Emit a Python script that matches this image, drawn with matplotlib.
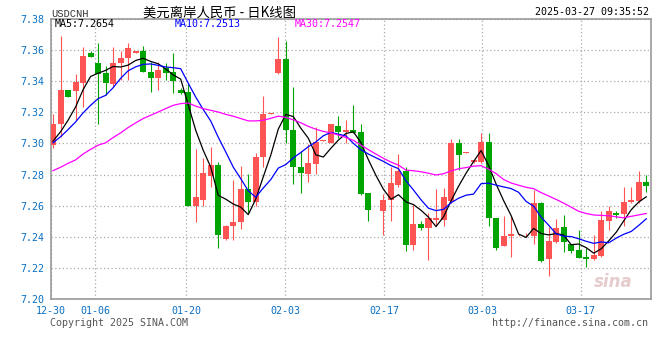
import numpy as np
import matplotlib.pyplot as plt

# 日K数据 (USDCNH)
tick_labels = ["12-30", "01-06", "01-20", "02-03", "02-17", "03-03", "03-17"]
tick_pos = [-0.27, 5.59, 17.75, 30.93, 44.11, 57.16, 70.27]

opens = [7.2989, 7.3124, 7.3341, 7.3334, 7.3388, 7.3579, 7.3520, 7.3452, 7.3379, 7.3516,
         7.3548, 7.3579, 7.3596, 7.3462, 7.3420, 7.3486, 7.3458, 7.3341, 7.3330, 7.2595,
         7.2638, 7.2793, 7.2862, 7.2387, 7.2468, 7.2493, 7.2708, 7.2621, 7.2911, 7.3187,
         7.3456, 7.3545, 7.3089, 7.2847, 7.2804, 7.2868, 7.3015, 7.3000, 7.3111, 7.3075,
         7.3085, 7.3072, 7.2681, 7.2572, 7.2563, 7.2638, 7.2734, 7.2823, 7.2344, 7.2485,
         7.2457, 7.2510, 7.2510, 7.2627, 7.3000, 7.2940, 7.2881, 7.2883, 7.3011, 7.2521,
         7.2340, 7.2404, 7.2410, 7.2410, 7.2408, 7.2617, 7.2259, 7.2365, 7.2463, 7.2351,
         7.2314, 7.2270, 7.2255, 7.2276, 7.2500, 7.2553, 7.2549, 7.2621, 7.2627, 7.2755]
highs = [7.3192, 7.3692, 7.3341, 7.3447, 7.3622, 7.3592, 7.3648, 7.3501, 7.3618, 7.3592,
         7.3648, 7.3596, 7.3628, 7.3522, 7.3522, 7.3518, 7.3579, 7.3358, 7.3383, 7.2964,
         7.2904, 7.2979, 7.2883, 7.2478, 7.2766, 7.2855, 7.2804, 7.2936, 7.3302, 7.3196,
         7.3686, 7.3660, 7.3366, 7.2951, 7.2996, 7.3107, 7.3021, 7.3128, 7.3175, 7.3149,
         7.3245, 7.3128, 7.2681, 7.2574, 7.2676, 7.2851, 7.2932, 7.2851, 7.2606, 7.2499,
         7.2553, 7.2706, 7.2712, 7.3026, 7.3026, 7.2942, 7.2894, 7.3070, 7.3070, 7.2521,
         7.2536, 7.2536, 7.2420, 7.2425, 7.2698, 7.2623, 7.2463, 7.2514, 7.2542, 7.2351,
         7.2446, 7.2329, 7.2414, 7.2563, 7.2600, 7.2563, 7.2719, 7.2719, 7.2825, 7.2798]
lows = [7.2968, 7.3043, 7.3298, 7.3149, 7.3234, 7.3554, 7.3124, 7.3309, 7.3366, 7.3405,
        7.3405, 7.3579, 7.3458, 7.3330, 7.3341, 7.3411, 7.3324, 7.3320, 7.2595, 7.2493,
        7.2595, 7.2723, 7.2329, 7.2380, 7.2378, 7.2453, 7.2553, 7.2595, 7.2851, 7.3187,
        7.3445, 7.3000, 7.2738, 7.2680, 7.2749, 7.2804, 7.3015, 7.3000, 7.3036, 7.3004,
        7.3064, 7.2666, 7.2499, 7.2572, 7.2414, 7.2499, 7.2723, 7.2308, 7.2314, 7.2446,
        7.2250, 7.2467, 7.2467, 7.2617, 7.2830, 7.2940, 7.2872, 7.2872, 7.2472, 7.2318,
        7.2340, 7.2272, 7.2404, 7.2400, 7.2351, 7.2237, 7.2148, 7.2361, 7.2301, 7.2297,
        7.2265, 7.2207, 7.2250, 7.2272, 7.2446, 7.2521, 7.2468, 7.2617, 7.2617, 7.2691]
closes = [7.3128, 7.3341, 7.3298, 7.3394, 7.3565, 7.3554, 7.3447, 7.3388, 7.3520, 7.3548,
          7.3614, 7.3596, 7.3458, 7.3420, 7.3473, 7.3452, 7.3400, 7.3324, 7.2595, 7.2653,
          7.2808, 7.2862, 7.2414, 7.2472, 7.2497, 7.2708, 7.2621, 7.2915, 7.3187, 7.3196,
          7.3545, 7.3089, 7.2847, 7.2813, 7.2872, 7.3011, 7.3021, 7.3128, 7.3075, 7.3085,
          7.3064, 7.2676, 7.2574, 7.2574, 7.2638, 7.2744, 7.2823, 7.2344, 7.2485, 7.2457,
          7.2521, 7.2521, 7.2655, 7.3000, 7.2925, 7.2942, 7.2894, 7.3011, 7.2521, 7.2329,
          7.2408, 7.2415, 7.2414, 7.2414, 7.2617, 7.2244, 7.2372, 7.2457, 7.2365, 7.2308,
          7.2265, 7.2255, 7.2280, 7.2506, 7.2563, 7.2542, 7.2621, 7.2638, 7.2755, 7.2729]

# 窗口之前的均线值
ma5_head = [7.3015, 7.3075, 7.3149, 7.3234]
ma10_head = [7.3004, 7.3043, 7.3089, 7.3138, 7.3196, 7.3245, 7.3288, 7.3309, 7.3358]
ma30_head = [7.2825, 7.2847, 7.2872, 7.2894, 7.2932, 7.2962, 7.2989, 7.3004, 7.3038, 7.3068,
             7.3102, 7.3132, 7.3160, 7.3181, 7.3202, 7.3224, 7.3245, 7.3256, 7.3260, 7.3240,
             7.3224, 7.3213, 7.3202, 7.3187, 7.3175, 7.3160, 7.3145, 7.3145, 7.3149]


def moving_avg(c, n, head):
    ma = np.convolve(np.asarray(c), np.ones(n) / n, mode="valid")
    return np.concatenate([head, ma])


ma5 = moving_avg(closes, 5, ma5_head)
ma10 = moving_avg(closes, 10, ma10_head)
ma30 = moving_avg(closes, 30, ma30_head)

W, H = 660, 360
fig = plt.figure(figsize=(6.6, 3.6), dpi=100)
ax = fig.add_axes([51 / W, 1 - 299 / H, 600 / W, 280 / H])

red = "#ff5454"
green = "#00a400"
blue_txt = "#0a6fc2"
mono = "DejaVu Sans Mono"

x = np.arange(len(closes))
o = np.array(opens)
c = np.array(closes)
up = c >= o
cols = np.where(up, red, green)

ax.vlines(x, lows, highs, colors=cols, linewidth=0.8, zorder=3)
bottoms = np.minimum(o, c)
heights = np.maximum(np.abs(c - o), 0.0003)
ax.bar(x, heights, bottom=bottoms, width=0.8, color=cols, zorder=4)

ax.plot(x, ma5, color="black", linewidth=0.9, zorder=5)
ax.plot(x, ma10, color="#0000ff", linewidth=0.9, zorder=5)
ax.plot(x, ma30, color="#ff00ff", linewidth=0.9, zorder=5)

ax.set_xlim(-0.27, 79.63)
ax.set_ylim(7.20, 7.38)
ax.set_yticks(np.arange(7.20, 7.381, 0.02))
ax.set_yticklabels(["%.2f" % v for v in np.arange(7.20, 7.381, 0.02)])
ax.set_xticks(tick_pos)
ax.set_xticklabels(tick_labels)
ax.tick_params(axis="both", length=0, labelsize=7.2, labelcolor=blue_txt)
ax.tick_params(axis="y", pad=4.5)
ax.tick_params(axis="x", pad=5)
for lab in ax.get_xticklabels() + ax.get_yticklabels():
    lab.set_family(mono)

ax.grid(True, color="#aaaaaa", linestyle=(0, (1, 2)), linewidth=0.9, zorder=0)
ax.set_axisbelow(True)
for s in ax.spines.values():
    s.set_color("#999999")
    s.set_linewidth(1.2)

# 水印
ax.text(0.97, 0.03, "sina", transform=ax.transAxes, ha="right", va="bottom",
        fontsize=12, fontstyle="italic", fontweight="bold", color="#e6cccc", zorder=1)

# 标题与信息栏
fig.text(51 / W, 1 - 14 / H, "USDCNH", family="Liberation Mono", fontsize=7.5,
         color="#333333", va="center")
fig.text(219 / W, 1 - 13 / H, "美元离岸人民币 - 日K线图",
         family=["Noto Sans CJK SC", "DejaVu Sans"], fontsize=9.6, color="black",
         ha="center", va="center")
fig.text(649 / W, 1 - 12 / H, "2025-03-27 09:35:52", family=mono, fontsize=7.2,
         color="black", ha="right", va="center")

fig.text(55 / W, 1 - 24 / H, "MA5:%.4f" % 7.2654, family=mono, fontsize=7.2,
         color="black", va="center")
fig.text(175 / W, 1 - 24 / H, "MA10:%.4f" % 7.2513, family=mono, fontsize=7.2,
         color="#0000ff", va="center")
fig.text(295 / W, 1 - 24 / H, "MA30:%.4f" % 7.2547, family=mono, fontsize=7.2,
         color="#ff00ff", va="center")

fig.text(50 / W, 1 - 323 / H, "Copyright 2025 SINA.COM", family=mono, fontsize=7.2,
         color="#555555", va="center")
fig.text(648 / W, 1 - 323 / H, "http://finance.sina.com.cn", family=mono, fontsize=7.2,
         color="#555555", ha="right", va="center")

fig.savefig("out.png", dpi=100)
